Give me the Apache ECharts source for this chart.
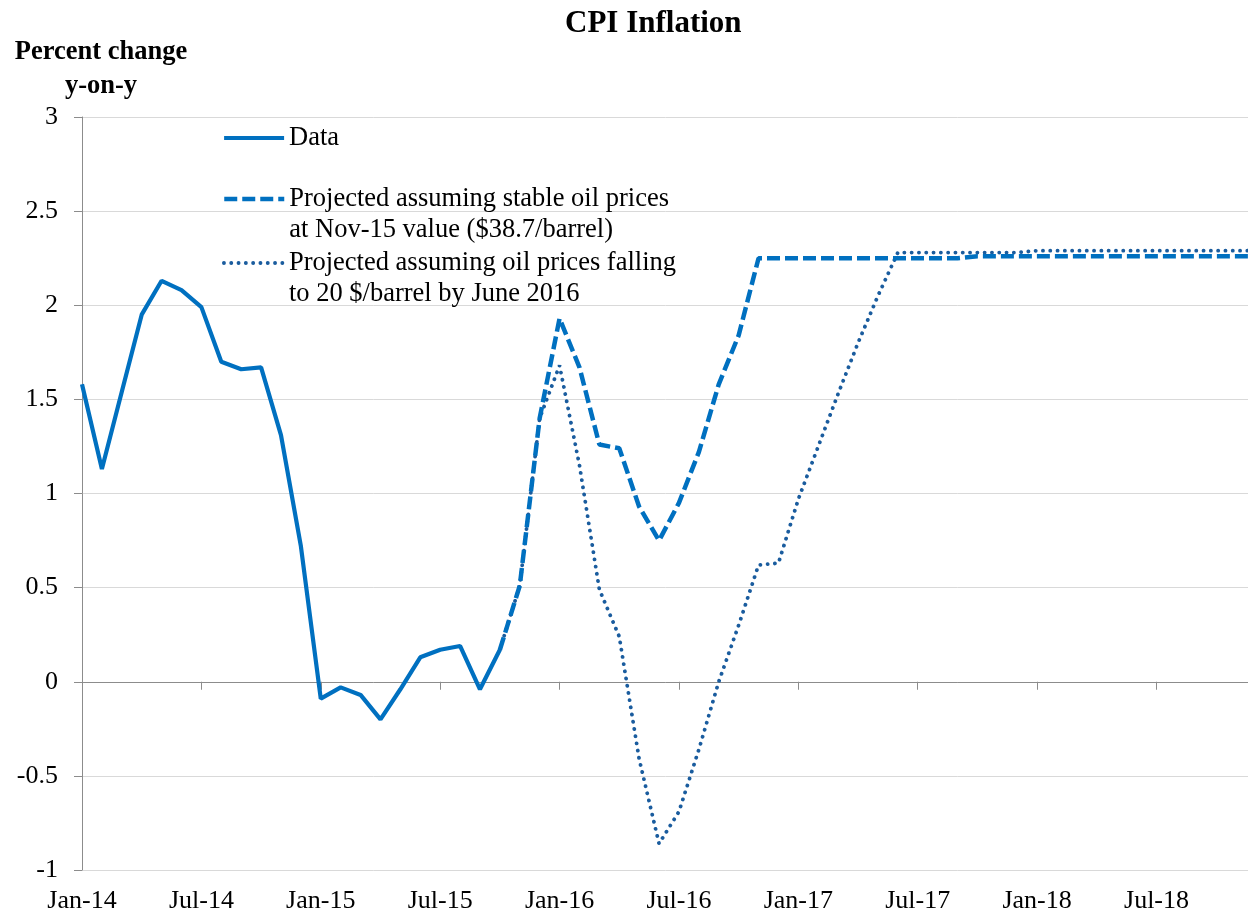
<!DOCTYPE html>
<html>
<head>
<meta charset="utf-8">
<script src="https://cdn.jsdelivr.net/npm/echarts@6/dist/echarts.min.js"></script>
<style>
  html, body { margin: 0; padding: 0; background: #fff; }
  #chart { width: 1248px; height: 915px; }
</style>
</head>
<body>
<div id="chart"></div>
<script>
// month labels Jan-14 .. Dec-18
const years = ["14", "15", "16", "17", "18"];
const monthNames = ["Jan", "Feb", "Mar", "Apr", "May", "Jun", "Jul", "Aug", "Sep", "Oct", "Nov", "Dec"];
const months = [];
years.forEach((y) => monthNames.forEach((m) => months.push(m + "-" + y)));

// actual CPI, Jan-14 .. Oct-15
const cpiData = [
  1.58, 1.13, 1.54, 1.95, 2.13, 2.08, 1.99, 1.70, 1.66, 1.67, 1.31, 0.72,
  -0.09, -0.03, -0.07, -0.20, -0.04, 0.13, 0.17, 0.19, -0.04, 0.17,
];

// projections start at Oct-15
const projStart = 21;
const projStable = [
  0.17, 0.51, 1.40,
  1.93, 1.67, 1.26, 1.24, 0.93, 0.75, 0.95, 1.22, 1.58, 1.84, 2.25, 2.25,
  2.25, 2.25, 2.25, 2.25, 2.25, 2.25, 2.25, 2.25, 2.25, 2.26, 2.26, 2.26,
  2.26, 2.26, 2.26, 2.26, 2.26, 2.26, 2.26, 2.26, 2.26, 2.26, 2.26, 2.26,
];
const projFalling = [
  0.17, 0.51, 1.40,
  1.68, 1.15, 0.49, 0.24, -0.41, -0.86, -0.69, -0.36, 0.00, 0.30, 0.62, 0.63,
  0.97, 1.25, 1.53, 1.80, 2.05, 2.28, 2.28, 2.28, 2.28, 2.28, 2.28, 2.28,
  2.29, 2.29, 2.29, 2.29, 2.29, 2.29, 2.29, 2.29, 2.29, 2.29, 2.29, 2.29,
];

const legendText = {
  "Data": "Data",
  "Stable": "\nProjected assuming stable oil prices\nat Nov-15 value ($38.7/barrel)",
  "Falling": "\nProjected assuming oil prices falling\nto 20 $/barrel by June 2016",
};

const pad = (arr, start) => Array(start).fill(null).concat(arr);

const serif = "Liberation Serif";
const blue = "#0070c0";
const dotBlue = "#1a5c9e";

const legendBase = {
  orient: "vertical",
  left: 222,
  padding: 0,
  itemWidth: 60,
  itemHeight: 12,
  itemStyle: { opacity: 0 },
  formatter: (name) => legendText[name],
  textStyle: { fontFamily: serif, fontSize: 26.5, lineHeight: 31, color: "#000" },
};

const chart = echarts.init(document.getElementById("chart"));
const option = {
  animation: false,
  backgroundColor: "#fff",
  title: {
    text: "CPI Inflation",
    left: 560,
    top: 3,
    textStyle: { fontFamily: serif, fontWeight: "bold", fontSize: 31, color: "#000" },
  },
  legend: [
    { ...legendBase, data: ["Data"], top: 122.5, lineStyle: { width: 4.2 } },
    { ...legendBase, data: ["Stable"], top: 152.5, lineStyle: { width: 4.5 } },
    { ...legendBase, data: ["Falling"], top: 216.5, lineStyle: { width: 3.8 } },
  ],
  grid: { left: 82, right: -8, top: 117, bottom: 45, containLabel: false, outerBoundsMode: "none" },
  xAxis: [
    {
      // zero line with ticks
      type: "category",
      data: months,
      boundaryGap: false,
      position: "top",
      axisLine: { show: true, onZero: true, lineStyle: { color: "#8c8c8c", width: 1 } },
      axisTick: { show: true, interval: 5, inside: true, length: 8, lineStyle: { color: "#8c8c8c" } },
      axisLabel: { show: false },
      splitLine: { show: false },
    },
    {
      // labels at the bottom
      type: "category",
      data: months,
      boundaryGap: false,
      position: "bottom",
      axisLine: { show: false, onZero: false },
      axisTick: { show: false },
      axisLabel: {
        interval: 5,
        margin: 18,
        fontFamily: serif,
        fontSize: 26,
        color: "#000",
      },
      splitLine: { show: false },
    },
  ],
  yAxis: {
    type: "value",
    min: -1,
    max: 3,
    interval: 0.5,
    axisLine: { show: true, lineStyle: { color: "#8c8c8c", width: 1 } },
    axisTick: { show: true, length: 8, lineStyle: { color: "#8c8c8c" } },
    axisLabel: { margin: 24, fontFamily: serif, fontSize: 26, color: "#000" },
    splitLine: { show: true, lineStyle: { color: "#d9d9d9", width: 1 } },
    name: "Percent change\ny-on-y",
    nameLocation: "end",
    nameGap: 14,
    nameTextStyle: {
      fontFamily: serif,
      fontWeight: "bold",
      fontSize: 26.5,
      lineHeight: 34,
      color: "#000",
      align: "center",
      padding: [0, 0, 0, 38],
    },
  },
  series: [
    {
      name: "Falling",
      type: "line",
      data: pad(projFalling, projStart),
      symbol: "none",
      lineStyle: { color: dotBlue, width: 3.8, type: [0.1, 7.2], cap: "round" },
      itemStyle: { color: dotBlue },
      z: 2,
    },
    {
      name: "Stable",
      type: "line",
      data: pad(projStable, projStart),
      symbol: "none",
      lineStyle: { color: blue, width: 4.5, type: [13, 5], cap: "butt" },
      itemStyle: { color: blue },
      z: 3,
    },
    {
      name: "Data",
      type: "line",
      data: cpiData,
      symbol: "none",
      lineStyle: { color: blue, width: 4.2, type: "solid" },
      itemStyle: { color: blue },
      z: 4,
    },
  ],
};
chart.setOption(option);
</script>
</body>
</html>
